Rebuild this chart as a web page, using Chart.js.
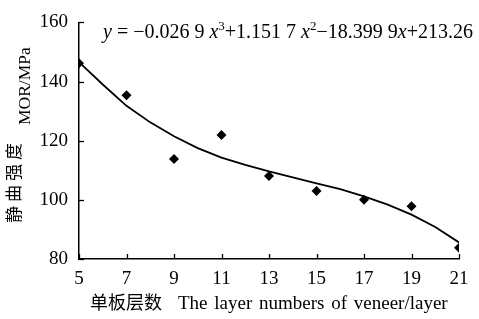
<!DOCTYPE html>
<html>
<head>
<meta charset="utf-8">
<script src="https://cdn.jsdelivr.net/npm/chart.js@4"></script>
<style>
  html, body { margin: 0; padding: 0; background: #fff; }
  #wrap { width: 479px; height: 319px; }
</style>
</head>
<body>
<div id="wrap"><canvas id="morChart" width="479" height="319"></canvas></div>
<script>
// measured points
const layers = [5, 7, 9, 11, 13, 15, 17, 19, 21];
const mor = [146.2, 135.4, 113.8, 121.9, 108.1, 103.0, 100.0, 97.8, 83.8];

// trend curve
const fitLayers = [5, 6, 7, 8, 9, 10, 11, 12, 13, 14, 15, 16, 17, 18, 19, 20, 21];
const fitMor = [146.6, 139.0, 131.8, 126.2, 121.5, 117.5, 114.3, 111.8, 109.6, 107.6, 105.6, 103.6, 101.2, 98.4, 95.0, 90.8, 85.6];

const xTicks = [5, 7, 9, 11, 13, 15, 17, 19, 21];
const yTicks = [80, 100, 120, 140, 160];

const serif = '"Liberation Serif", "Times New Roman", serif';
const cjk = '"Noto Sans CJK SC", sans-serif';

// ticks pointing into the plot, axis titles and the equation
const decorPlugin = {
    id: 'decor',
    afterDraw(chart) {
        const { ctx, chartArea: a, scales: { x, y } } = chart;
        ctx.save();
        ctx.strokeStyle = '#000';
        ctx.lineWidth = 1.3;
        xTicks.forEach(v => {
            const px = Math.round(x.getPixelForValue(v)) + 0.5;
            ctx.beginPath();
            ctx.moveTo(px, a.bottom);
            ctx.lineTo(px, a.bottom - 5);
            ctx.stroke();
        });
        yTicks.forEach(v => {
            const py = Math.round(y.getPixelForValue(v)) + 0.5;
            ctx.beginPath();
            ctx.moveTo(a.left, py);
            ctx.lineTo(a.left + 5, py);
            ctx.stroke();
        });

        ctx.fillStyle = '#000';
        ctx.textBaseline = 'alphabetic';
        ctx.textAlign = 'left';

        // x title
        ctx.font = '18px ' + cjk;
        ctx.fillText('单板层数', 90, 309);
        ctx.font = '19px ' + serif;
        ctx.wordSpacing = '2px';
        ctx.fillText('The layer numbers of veneer/layer', 178, 309);
        ctx.wordSpacing = '0px';

        // y title, reading bottom to top
        ctx.save();
        ctx.translate(20, 223);
        ctx.rotate(-Math.PI / 2);
        ctx.font = '17px ' + cjk;
        ctx.letterSpacing = '4px';
        ctx.fillText('静曲强度', 0, 0);
        ctx.letterSpacing = '0px';
        ctx.restore();
        ctx.save();
        ctx.translate(30, 125);
        ctx.rotate(-Math.PI / 2);
        ctx.font = '17.5px ' + serif;
        ctx.fillText('MOR/MPa', 0, 0);
        ctx.restore();

        // equation
        const parts = [
            ['y', 'i'], [' = \u22120.026 9 ', 'n'], ['x', 'i'], ['3', 's'],
            ['+1.151 7 ', 'n'], ['x', 'i'], ['2', 's'],
            ['\u221218.399 9', 'n'], ['x', 'i'], ['+213.26', 'n']
        ];
        let ex = 103;
        const eb = 38;
        parts.forEach(([t, k]) => {
            if (k === 'i') ctx.font = 'italic 20px ' + serif;
            else if (k === 's') ctx.font = '13px ' + serif;
            else ctx.font = '20px ' + serif;
            ctx.fillText(t, ex, k === 's' ? eb - 8 : eb);
            ex += ctx.measureText(t).width;
        });
        ctx.restore();
    }
};

new Chart(document.getElementById('morChart'), {
    type: 'scatter',
    data: {
        datasets: [{
            label: 'MOR',
            data: layers.map((v, i) => ({ x: v, y: mor[i] })),
            pointStyle: 'rectRot',
            pointRadius: 5,
            backgroundColor: '#000',
            borderColor: '#000',
            borderWidth: 0,
            showLine: false
        }, {
            label: 'fit',
            data: fitLayers.map((v, i) => ({ x: v, y: fitMor[i] })),
            showLine: true,
            pointRadius: 0,
            borderColor: '#000',
            borderWidth: 1.8,
            tension: 0,
            fill: false
        }]
    },
    options: {
        responsive: false,
        animation: false,
        events: [],
        layout: { padding: { top: 12, right: 20, bottom: 0, left: 0 } },
        plugins: { legend: { display: false }, tooltip: { enabled: false } },
        scales: {
            x: {
                type: 'linear',
                min: 5, max: 21,
                afterFit: s => { s.height = 60; },
                afterBuildTicks: s => { s.ticks = xTicks.map(v => ({ value: v })); },
                grid: { display: false, drawTicks: false },
                border: { display: true, color: '#000', width: 1.5 },
                ticks: { color: '#000', padding: 9, maxRotation: 0, font: { family: serif, size: 19 } }
            },
            y: {
                min: 80, max: 160,
                afterFit: s => { s.width = 79; },
                afterBuildTicks: s => { s.ticks = yTicks.map(v => ({ value: v })); },
                grid: { display: false, drawTicks: false },
                border: { display: true, color: '#000', width: 1.5 },
                ticks: { color: '#000', padding: 11, font: { family: serif, size: 19 } }
            }
        }
    },
    plugins: [decorPlugin]
});
</script>
</body>
</html>
